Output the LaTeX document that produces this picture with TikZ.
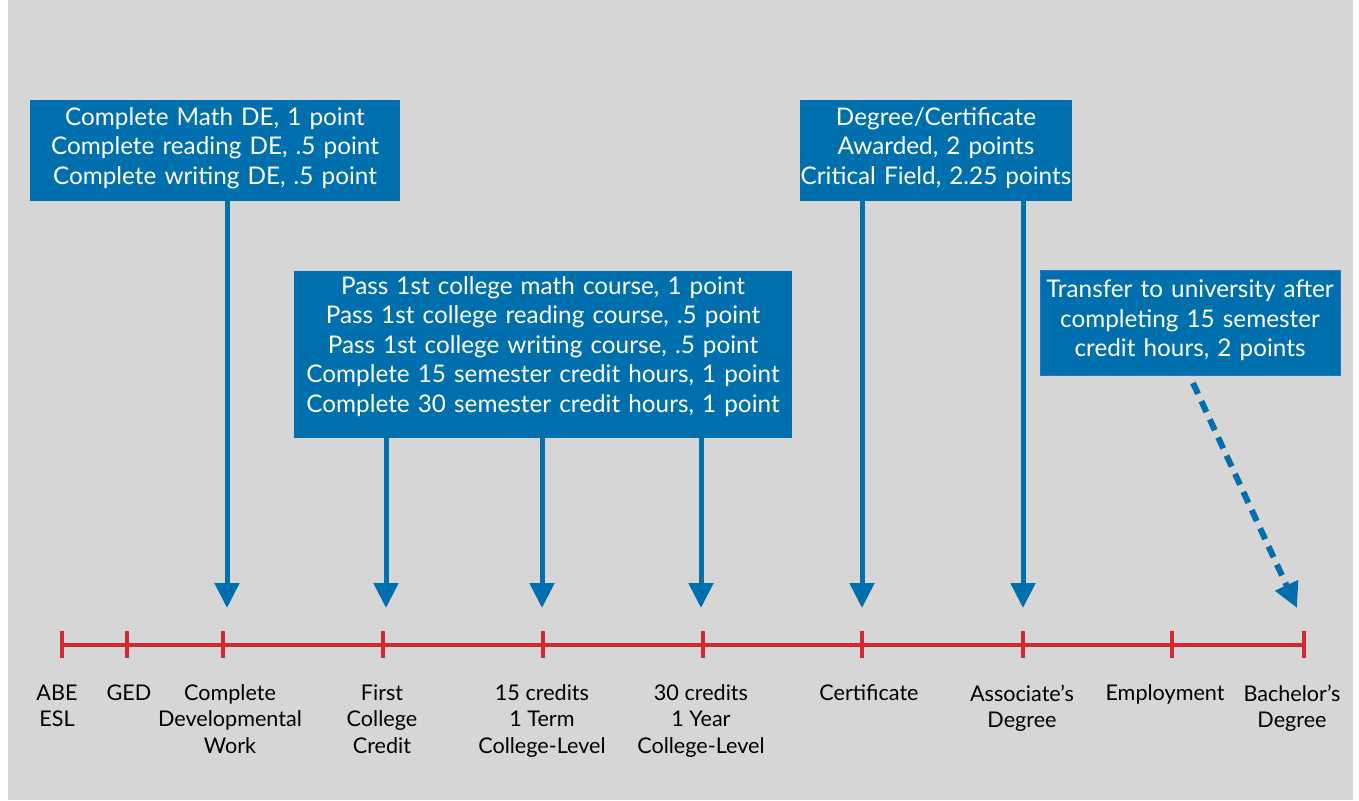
\documentclass[tikz,border=0pt]{standalone}
\usepackage{fontspec}
\setmainfont{Lato}
\usetikzlibrary{arrows.meta}
\newcommand{\pxl}{1pt}
\definecolor{bggray}{RGB}{214,214,214}
\definecolor{ptblue}{RGB}{0,111,173}
\definecolor{edgeblue}{RGB}{50,110,200}
\definecolor{tlred}{RGB}{216,38,46}

\begin{document}
\begin{tikzpicture}[x=\pxl, y=-\pxl,
    pts/.style={fill=ptblue, text=white, inner sep=0pt, align=center, font=\fontsize{24.3}{29.5}\selectfont},
    lift/.style={execute at end node={\endgraf\vspace{#1}}},
    arr/.style={draw=ptblue, line width=5, -{Triangle[width=24,length=25]}},
    tlline/.style={draw=tlred, line width=4},
    stage/.style={anchor=north, align=center, font=\fontsize{21.6}{26.5}\selectfont}]
    \useasboundingbox (0,0) rectangle (1359,800);
    \fill[white] (0,0) rectangle (1359,800);
    \fill[bggray] (8,0) rectangle (1353,800);

    % Point boxes
    \node[pts, lift=5pt, text width=370, minimum height=101] (box-de) at (215,150.5)
        {Complete Math DE, 1 point\\Complete reading DE, .5 point\\Complete writing DE, .5 point};
    \node[pts, lift=16pt, text width=498, minimum height=167] (box-college) at (543,354.5)
        {Pass 1st college math course, 1 point\\Pass 1st college reading course, .5 point\\Pass 1st college writing course, .5 point\\Complete 15 semester credit hours, 1 point\\Complete 30 semester credit hours, 1 point};
    \node[pts, lift=5pt, text width=272, minimum height=101] (box-award) at (936,150.5)
        {Degree/Certificate\\Awarded, 2 points\\Critical Field, 2.25 points};
    \node[pts, lift=4pt, draw=edgeblue, line width=1, text width=300, minimum height=105] (box-transfer) at (1190,322.5)
        {Transfer to university after\\completing 15 semester\\credit hours, 2 points};

    % Timeline
    \coordinate (t-abe) at (62,645);
    \coordinate (t-ged) at (127,645);
    \coordinate (t-dev) at (223,645);
    \coordinate (t-first) at (383,645);
    \coordinate (t-term) at (543,645);
    \coordinate (t-year) at (703,645);
    \coordinate (t-cert) at (862,645);
    \coordinate (t-assoc) at (1023,645);
    \coordinate (t-emp) at (1172,645);
    \coordinate (t-bach) at (1304,645);
    \draw[tlline] (t-abe) -- (t-bach);
    \foreach \t in {abe,ged,dev,first,term,year,cert,assoc,emp,bach}
        \draw[tlline] ([yshift=14]t-\t) -- ([yshift=-13]t-\t);

    % Stage labels
    \node[stage] (lab-abe) at (57,681) {ABE\\ESL};
    \node[stage] (lab-ged) at (129,681) {GED};
    \node[stage] (lab-dev) at (230,681) {Complete\\Developmental\\Work};
    \node[stage] (lab-first) at (382,681) {First\\College\\Credit};
    \node[stage] (lab-term) at (542,681) {15 credits\\1 Term\\College-Level};
    \node[stage] (lab-year) at (701,681) {30 credits\\1 Year\\College-Level};
    \node[stage] (lab-cert) at (869,681) {Certificate};
    \node[stage] (lab-assoc) at (1022,681) {Associate’s\\Degree};
    \node[stage] (lab-emp) at (1165,681) {Employment};
    \node[stage] (lab-bach) at (1292,681) {Bachelor’s\\Degree};

    % Arrows
    \coordinate (a-dev) at (227,608);
    \coordinate (a-first) at (386,608);
    \coordinate (a-term) at (542,608);
    \coordinate (a-year) at (701,608);
    \coordinate (a-cert) at (862,608);
    \coordinate (a-assoc) at (1023,608);
    \coordinate (a-bach) at (1297,608);
    \coordinate (xfer) at (1193,383);
    \draw[arr] (box-de.south -| a-dev) -- (a-dev);
    \draw[arr] (box-college.south -| a-first) -- (a-first);
    \draw[arr] (box-college.south -| a-term) -- (a-term);
    \draw[arr] (box-college.south -| a-year) -- (a-year);
    \draw[arr] (box-award.south -| a-cert) -- (a-cert);
    \draw[arr] (box-award.south -| a-assoc) -- (a-assoc);
    \draw[arr, line width=6, dash pattern=on 12 off 8] (xfer) -- (a-bach);
\end{tikzpicture}
\end{document}
